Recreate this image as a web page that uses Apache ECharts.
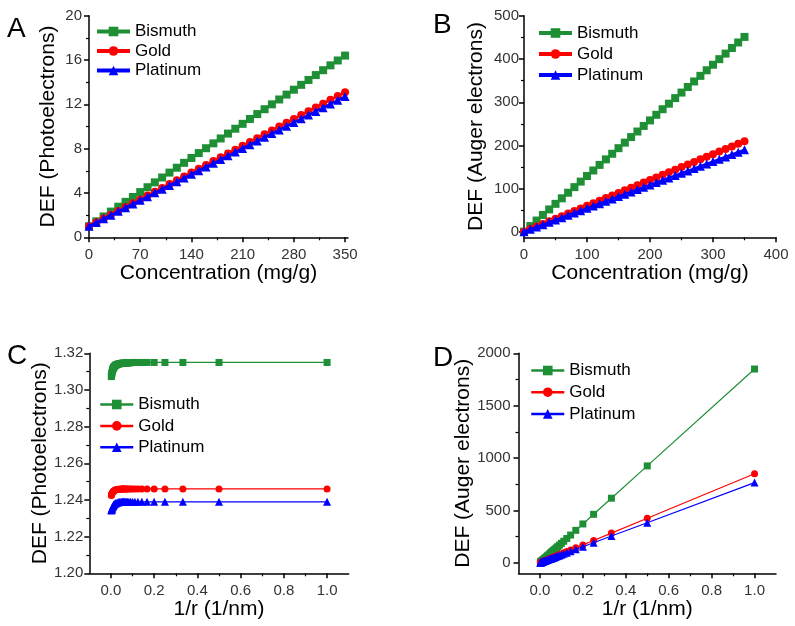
<!DOCTYPE html>
<html>
<head>
<meta charset="utf-8">
<script src="https://cdn.jsdelivr.net/npm/echarts@6/dist/echarts.min.js"></script>
<style>
html,body{margin:0;padding:0;background:#fff;}
#chart{width:795px;height:626px;}
</style>
</head>
<body>
<div id="chart"></div>
<script>
// ---------- DATA ----------
const seriesNames = ['Bismuth', 'Gold', 'Platinum'];

// Panels A & B: concentration (mg/g)
const conc = [0,10,20,30,40,50,60,70,80,90,100,110,120,130,140,150,160,170,180,190,200,210,220,230,240,250,260,270,280,290,300,310,320,330,340,350];

const aBismuth = [1.00,1.44,1.88,2.32,2.76,3.20,3.64,4.08,4.52,4.96,5.40,5.84,6.28,6.72,7.16,7.60,8.04,8.48,8.92,9.36,9.80,10.24,10.68,11.12,11.56,12.00,12.44,12.88,13.32,13.76,14.20,14.64,15.08,15.52,15.96,16.40];
const aGold = [1.00,1.35,1.69,2.04,2.38,2.73,3.07,3.42,3.77,4.11,4.46,4.80,5.15,5.49,5.84,6.19,6.53,6.88,7.22,7.57,7.91,8.26,8.61,8.95,9.30,9.64,9.99,10.33,10.68,11.03,11.37,11.72,12.06,12.41,12.75,13.10];
const aPlatinum = [1.00,1.33,1.67,2.00,2.34,2.67,3.01,3.34,3.67,4.01,4.34,4.68,5.01,5.35,5.68,6.01,6.35,6.68,7.02,7.35,7.69,8.02,8.36,8.69,9.02,9.36,9.69,10.03,10.36,10.70,11.03,11.36,11.70,12.03,12.37,12.70];

const bBismuth = [1,13.9,26.7,39.6,52.4,65.3,78.1,91,103.9,116.7,129.6,142.4,155.3,168.1,181,193.9,206.7,219.6,232.4,245.3,258.1,271,283.9,296.7,309.6,322.4,335.3,348.1,361,373.9,386.7,399.6,412.4,425.3,438.1,451];
const bGold = [1,7,12.9,18.9,24.9,30.9,36.8,42.8,48.8,54.7,60.7,66.7,72.6,78.6,84.6,90.6,96.5,102.5,108.5,114.4,120.4,126.4,132.3,138.3,144.3,150.3,156.2,162.2,168.2,174.1,180.1,186.1,192,198,204,210];
const bPlatinum = [1,6.4,11.8,17.2,22.6,28,33.4,38.8,44.2,49.6,55,60.4,65.8,71.2,76.6,82,87.4,92.8,98.2,103.6,109,114.4,119.8,125.2,130.6,136,141.4,146.8,152.2,157.6,163,168.4,173.8,179.2,184.6,190];

// Panels C & D: 1/r (1/nm)
const invR = [1,0.5,0.333,0.25,0.2,0.167,0.143,0.125,0.111,0.1,0.0909,0.0833,0.0769,0.0714,0.0667,0.0625,0.0588,0.0556,0.0526,0.05,0.0455,0.04,0.0357,0.0333,0.0286,0.025,0.0222,0.02,0.0167,0.0143,0.0125,0.0111,0.01,0.0083,0.0067,0.005,0.004,0.0033,0.0025,0.002];

const cBismuth = [1.3150,1.3150,1.3150,1.3150,1.3150,1.3150,1.3150,1.3150,1.3150,1.3150,1.3148,1.3148,1.3147,1.3147,1.3147,1.3146,1.3146,1.3146,1.3146,1.3145,1.3144,1.3143,1.3142,1.3141,1.3139,1.3137,1.3135,1.3133,1.3129,1.3126,1.3122,1.3119,1.3116,1.3111,1.3104,1.3096,1.3090,1.3085,1.3078,1.3073];
const cGold = [1.2460,1.2460,1.2460,1.2460,1.2460,1.2460,1.2460,1.2460,1.2460,1.2460,1.2460,1.2460,1.2460,1.2460,1.2460,1.2460,1.2460,1.2460,1.2460,1.2460,1.2459,1.2459,1.2458,1.2458,1.2457,1.2456,1.2455,1.2454,1.2452,1.2450,1.2448,1.2446,1.2445,1.2442,1.2439,1.2435,1.2432,1.2430,1.2427,1.2425];
const cPlatinum = [1.2390,1.2390,1.2390,1.2390,1.2390,1.2390,1.2390,1.2390,1.2390,1.2390,1.2390,1.2390,1.2390,1.2390,1.2390,1.2390,1.2390,1.2390,1.2390,1.2390,1.2389,1.2389,1.2388,1.2387,1.2385,1.2384,1.2382,1.2381,1.2378,1.2375,1.2372,1.2369,1.2367,1.2363,1.2359,1.2354,1.2350,1.2348,1.2345,1.2342];

const dBismuth = [1850,925,617,463,371,310,265,232,206,186,169,155,143,133,124,117,110,104,98,93,85,75,67,63,54,47,42,38,32,27,24,22,19.5,16.3,13.4,10.2,8.4,7.1,5.6,4.7];
const dGold = [850,426,284,213,171,143,123,107,95,86,78,72,66,62,58,54,51,48,46,43.5,39.7,35,31.3,29.3,25.3,22.3,19.9,18,15.2,13.2,11.6,10.4,9.5,8.1,6.7,5.3,4.4,3.8,3.1,2.7];
const dPlatinum = [766,383,256,192,154,129,110,97,86,77.5,70.5,64.7,59.8,55.6,52,48.8,46,43.5,41.2,39.3,35.8,31.6,28.3,26.5,22.9,20.1,18,16.3,13.8,11.9,10.6,9.5,8.7,7.3,6.1,4.8,4.1,3.5,2.9,2.5];

// Tick values
const aXMajor = [0,70,140,210,280,350], aXMinor = [35,105,175,245,315];
const aYMajor = [0,4,8,12,16,20], aYMinor = [2,6,10,14,18];
const bXMajor = [0,100,200,300,400], bXMinor = [50,150,250,350];
const bYMajor = [0,100,200,300,400,500], bYMinor = [50,150,250,350,450];
const cXMajor = [0,0.2,0.4,0.6,0.8,1.0], cXMinor = [0.1,0.3,0.5,0.7,0.9];
const cYMajor = [1.20,1.22,1.24,1.26,1.28,1.30,1.32], cYMinor = [1.21,1.23,1.25,1.27,1.29,1.31];
const dXMajor = [0,0.2,0.4,0.6,0.8,1.0], dXMinor = [0.1,0.3,0.5,0.7,0.9];
const dYMajor = [0,500,1000,1500,2000], dYMinor = [250,750,1250,1750];

// ---------- STYLE ----------
const FONT = 'Liberation Sans, Arial, sans-serif';
const colors = ['#1e8f35', '#ff0000', '#0000ff'];
const symbols = ['rect', 'circle', 'triangle'];

const grids = [
  {left: 89, top: 15.7, width: 259, height: 221.6},
  {left: 524, top: 15.7, width: 252, height: 221.6},
  {left: 89.3, top: 353.3, width: 259.4, height: 220},
  {left: 518.5, top: 353.3, width: 257.5, height: 220}
];

const xAxes = [], yAxes = [];
function addAxis(list, g, dir, min, max, majors, minors, name, nameGap, labelMargin, fmt) {
  const common = {
    type: 'value', gridIndex: g, min: min, max: max,
    position: dir === 'x' ? 'bottom' : 'left',
    splitLine: {show: false}
  };
  list.push(Object.assign({}, common, {
    name: name, nameLocation: 'middle', nameGap: nameGap,
    nameTextStyle: {fontSize: 21, color: '#000', fontFamily: FONT},
    axisLine: {show: true, onZero: false, lineStyle: {color: '#000', width: 1.5}},
    axisTick: {show: true, inside: false, length: 5, customValues: majors, lineStyle: {color: '#000', width: 1.5}},
    axisLabel: {show: true, customValues: majors, margin: labelMargin, fontSize: 15, color: '#333', fontFamily: FONT, formatter: fmt}
  }));
  list.push(Object.assign({}, common, {
    axisLine: {show: false, onZero: false},
    axisTick: {show: true, inside: false, length: 3, customValues: minors, lineStyle: {color: '#000', width: 1.2}},
    axisLabel: {show: false}
  }));
}
const fInt = v => String(Math.round(v));
const f1 = v => v.toFixed(1);
const f2 = v => v.toFixed(2);

addAxis(xAxes, 0, 'x', 0, 354, aXMajor, aXMinor, 'Concentration (mg/g)', 22, 10, fInt);
addAxis(yAxes, 0, 'y', 0, 20, aYMajor, aYMinor, 'DEF (Photoelectrons)', 30, 7, fInt);
addAxis(xAxes, 1, 'x', 0, 400, bXMajor, bXMinor, 'Concentration (mg/g)', 22, 10, fInt);
addAxis(yAxes, 1, 'y', -12, 500, bYMajor, bYMinor, 'DEF (Auger electrons)', 37, 5, fInt);
addAxis(xAxes, 2, 'x', -0.1, 1.1, cXMajor, cXMinor, '1/r (1/nm)', 24, 10, f1);
addAxis(yAxes, 2, 'y', 1.20, 1.32, cYMajor, cYMinor, 'DEF (Photoelectrons)', 38, 6, f2);
addAxis(xAxes, 3, 'x', -0.1, 1.1, dXMajor, dXMinor, '1/r (1/nm)', 23, 10, f1);
addAxis(yAxes, 3, 'y', -100, 2000, dYMajor, dYMinor, 'DEF (Auger electrons)', 42, 8, fInt);

function zip(xs, ys) { return xs.map((x, i) => [x, ys[i]]); }

const panelData = [
  {x: conc, ys: [aBismuth, aGold, aPlatinum], lw: 2.5, sizes: [8, 8, 9]},
  {x: conc, ys: [bBismuth, bGold, bPlatinum], lw: 2.5, sizes: [8, 8, 9]},
  {x: invR, ys: [cBismuth, cGold, cPlatinum], lw: 1.2, sizes: [7, 7, 8]},
  {x: invR, ys: [dBismuth, dGold, dPlatinum], lw: 1.2, sizes: [7, 7, 8]}
];

const series = [];
panelData.forEach((p, g) => {
  p.ys.forEach((ys, k) => {
    series.push({
      type: 'line', name: seriesNames[k],
      xAxisIndex: 2 * g, yAxisIndex: 2 * g,
      data: zip(p.x, ys),
      symbol: symbols[k], symbolSize: p.sizes[k], showSymbol: true,
      lineStyle: {color: colors[k], width: p.lw},
      itemStyle: {color: colors[k]},
      emphasis: {disabled: true},
      z: 2 + k, animation: false
    });
  });
});

function legendAt(left, top, gap, lw) {
  return {
    orient: 'vertical', left: left, top: top, padding: 0,
    itemWidth: 33, itemHeight: 12, itemGap: gap,
    data: seriesNames, selectedMode: false,
    lineStyle: {width: lw},
    textStyle: {fontSize: 17, color: '#000', fontFamily: FONT, lineHeight: 17}
  };
}

const letterStyle = (t, x, y) => ({
  type: 'text', left: x, top: y,
  style: {text: t, fontSize: 28, fontFamily: FONT, fill: '#000'}
});

const option = {
  backgroundColor: '#fff',
  animation: false,
  grid: grids,
  xAxis: xAxes,
  yAxis: yAxes,
  legend: [
    legendAt(95, 23, 2.5, 4),
    legendAt(537, 24.5, 4, 4),
    legendAt(99, 396, 4.4, 2.5),
    legendAt(530, 362, 4.7, 2.5)
  ],
  series: series,
  graphic: [
    letterStyle('A', 7, 15),
    letterStyle('B', 433, 11),
    letterStyle('C', 7, 342),
    letterStyle('D', 433, 344)
  ]
};

const chart = echarts.init(document.getElementById('chart'), null, {renderer: 'canvas'});
chart.setOption(option);
</script>
</body>
</html>
